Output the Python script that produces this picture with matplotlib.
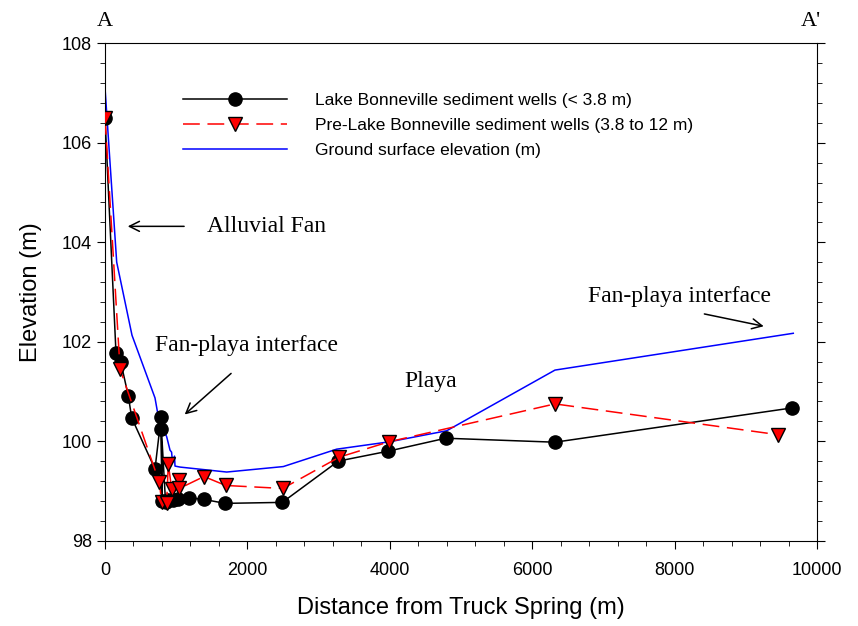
import matplotlib
matplotlib.use("Agg")
import matplotlib.pyplot as plt
from matplotlib.ticker import MultipleLocator

# Lake Bonneville sediment wells (< 3.8 m)
lake_x = [0, 154, 220, 327, 375, 702, 787, 800, 792, 850, 889, 959, 1031,
          1186, 1390, 1685, 2490, 3277, 3979, 4785, 6320, 9654]
lake_y = [106.5, 101.78, 101.6, 100.91, 100.47, 99.44, 100.48, 98.8, 100.24,
          98.78, 98.82, 98.82, 98.83, 98.86, 98.83, 98.75, 98.77, 99.6, 99.8,
          100.06, 99.98, 100.67]

# Pre-Lake Bonneville sediment wells (3.8 to 12 m)
pre_x = [0, 211, 763, 796, 865, 889, 937, 1044, 1044, 1390, 1695, 2496,
         3291, 3993, 6320, 9457]
pre_y = [106.5, 101.45, 99.17, 98.78, 98.75, 99.54, 99.03, 99.23, 99.05,
         99.29, 99.11, 99.05, 99.68, 99.99, 100.75, 100.13]

# Ground surface elevation (m)
gs_x = [0, 164, 379, 702, 749, 866, 913, 935, 948, 976, 983, 1053, 1709,
        2504, 3254, 4003, 4799, 6320, 9667]
gs_y = [107.1, 103.6, 102.13, 100.87, 100.49, 100.09, 99.82, 99.78, 99.58,
        99.7, 99.5, 99.48, 99.38, 99.49, 99.84, 99.99, 100.21, 101.43, 102.17]

plt.rcParams['font.family'] = ['Liberation Sans', 'DejaVu Sans']
serif = ['Liberation Serif', 'DejaVu Serif']

fig = plt.figure(figsize=(8.58, 6.26), dpi=100)
ax = fig.add_axes([0.1224, 0.1363, 0.8298, 0.7945])

ax.plot(lake_x, lake_y, color='black', lw=1.1, marker='o', ms=9.5,
        mfc='black', mec='black', label='Lake Bonneville sediment wells (< 3.8 m)', zorder=3)
ax.plot(pre_x, pre_y, color='red', lw=1.1, dashes=(11, 5), marker='v', ms=10,
        mfc='red', mec='black', mew=1, label='Pre-Lake Bonneville sediment wells (3.8 to 12 m)', zorder=4)
ax.plot(gs_x, gs_y, color='blue', lw=1.1, label='Ground surface elevation (m)', zorder=2)

ax.set_xlim(0, 10000)
ax.set_ylim(98, 108)
ax.xaxis.set_major_locator(MultipleLocator(2000))
ax.xaxis.set_minor_locator(MultipleLocator(400))
ax.yaxis.set_major_locator(MultipleLocator(2))
ax.yaxis.set_minor_locator(MultipleLocator(0.4))
ax.tick_params(which='both', direction='out', top=False, right=True, labelsize=13)
ax.tick_params(which='major', length=6)
ax.tick_params(which='minor', length=3.5)
ax.tick_params(axis='x', pad=9)

ax.set_xlabel('Distance from Truck Spring (m)', fontsize=17, labelpad=13)
ax.set_ylabel('Elevation (m)', fontsize=17, labelpad=14)

leg = ax.legend(loc='upper left', bbox_to_anchor=(0.109, 0.9), frameon=False,
                fontsize=12.5, handlelength=6.0, handletextpad=1.6,
                labelspacing=0.55, borderpad=0, borderaxespad=0)

ax.text(0, 108.25, 'A', family=serif, fontsize=16, ha='center', va='bottom')
ax.text(9920, 108.25, "A'", family=serif, fontsize=16, ha='center', va='bottom')

ax.annotate('', xy=(280, 104.32), xytext=(1150, 104.32),
            arrowprops=dict(arrowstyle='->', color='black', lw=1.1, mutation_scale=18))
ax.text(1430, 104.32, 'Alluvial Fan', family=serif, fontsize=17, va='center')

ax.text(700, 101.93, 'Fan-playa interface', family=serif, fontsize=17, va='center')
ax.annotate('', xy=(1090, 100.5), xytext=(1800, 101.4),
            arrowprops=dict(arrowstyle='->', color='black', lw=1.1, mutation_scale=18))

ax.text(4200, 101.2, 'Playa', family=serif, fontsize=17, va='center')

ax.text(6790, 102.9, 'Fan-playa interface', family=serif, fontsize=17, va='center')
ax.annotate('', xy=(9290, 102.3), xytext=(8380, 102.57),
            arrowprops=dict(arrowstyle='->', color='black', lw=1.1, mutation_scale=18))

fig.savefig('out.png', dpi=100)
